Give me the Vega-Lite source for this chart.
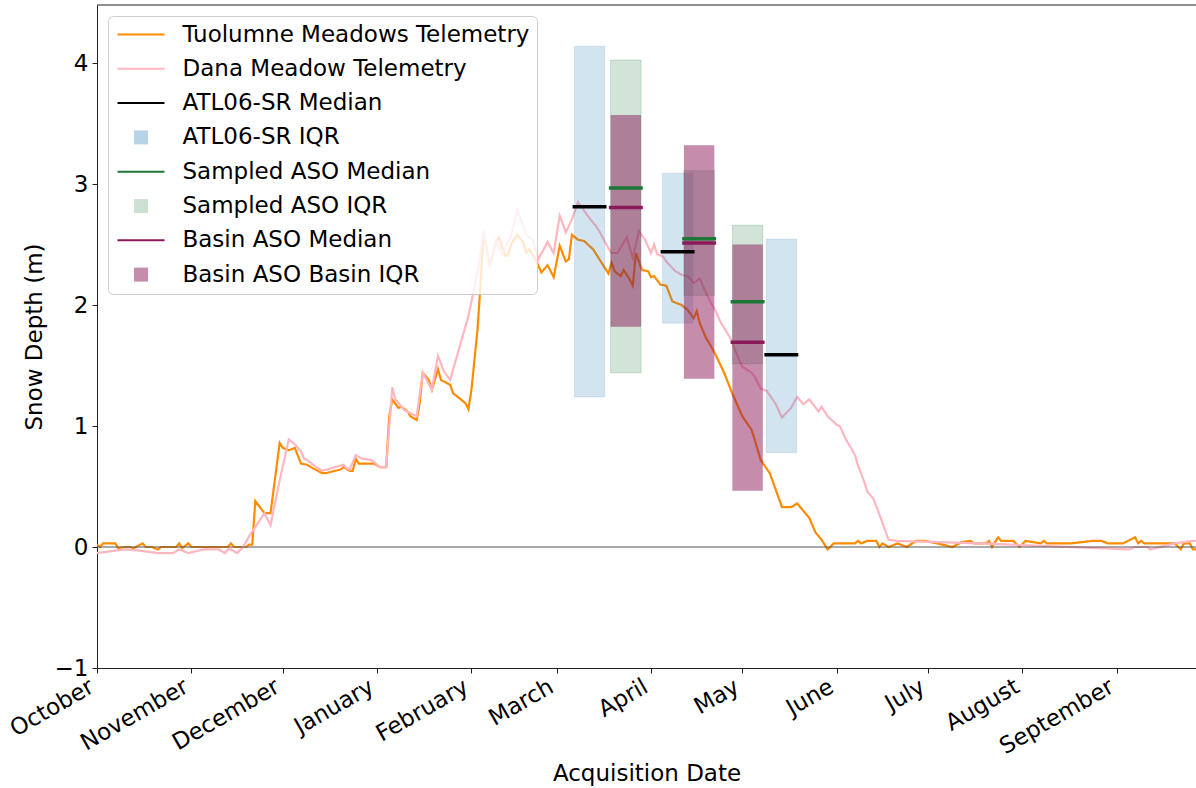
{
  "$schema": "https://vega.github.io/schema/vega-lite/v6.json",
  "width": 1099,
  "height": 663,
  "autosize": {"type": "none"},
  "padding": {"left": 97, "top": 5, "right": 0, "bottom": 120},
  "background": "white",
  "config": {
    "font": "DejaVu Sans",
    "view": {"stroke": null},
    "axis": {"labelFont": "DejaVu Sans", "titleFont": "DejaVu Sans", "labelFontSize": 23, "titleFontSize": 23, "titleFontWeight": "normal", "labelColor": "black", "titleColor": "black", "domainColor": "#222222", "tickColor": "#222222", "tickSize": 5, "grid": false},
    "legend": {"labelFont": "DejaVu Sans", "labelFontSize": 23, "labelColor": "black"}
  },
  "datasets": {
    "tuol": [
      {"date": "2018-10-01", "depth": 0.02}, {"date": "2018-10-02", "depth": 0.0}, {"date": "2018-10-03", "depth": 0.03}, {"date": "2018-10-07", "depth": 0.03}, {"date": "2018-10-08", "depth": -0.01}, {"date": "2018-10-10", "depth": 0.0}, {"date": "2018-10-12", "depth": 0.0}, {"date": "2018-10-13", "depth": -0.01}, {"date": "2018-10-16", "depth": 0.03}, {"date": "2018-10-17", "depth": 0.0}, {"date": "2018-10-19", "depth": 0.0}, {"date": "2018-10-21", "depth": -0.02}, {"date": "2018-10-22", "depth": 0.0}, {"date": "2018-10-27", "depth": 0.0}, {"date": "2018-10-28", "depth": 0.03}, {"date": "2018-10-29", "depth": -0.01}, {"date": "2018-10-31", "depth": 0.03}, {"date": "2018-11-01", "depth": 0.0}, {"date": "2018-11-13", "depth": 0.0}, {"date": "2018-11-14", "depth": 0.03}, {"date": "2018-11-15", "depth": 0.0}, {"date": "2018-11-19", "depth": 0.0}, {"date": "2018-11-20", "depth": 0.02}, {"date": "2018-11-21", "depth": 0.02}, {"date": "2018-11-22", "depth": 0.38}, {"date": "2018-11-25", "depth": 0.28}, {"date": "2018-11-27", "depth": 0.28}, {"date": "2018-11-30", "depth": 0.86}, {"date": "2018-12-01", "depth": 0.82}, {"date": "2018-12-03", "depth": 0.80}, {"date": "2018-12-05", "depth": 0.82}, {"date": "2018-12-07", "depth": 0.69}, {"date": "2018-12-09", "depth": 0.68}, {"date": "2018-12-11", "depth": 0.65}, {"date": "2018-12-14", "depth": 0.61}, {"date": "2018-12-15", "depth": 0.61}, {"date": "2018-12-20", "depth": 0.64}, {"date": "2018-12-21", "depth": 0.66}, {"date": "2018-12-23", "depth": 0.63}, {"date": "2018-12-24", "depth": 0.63}, {"date": "2018-12-25", "depth": 0.73}, {"date": "2018-12-26", "depth": 0.69}, {"date": "2018-12-31", "depth": 0.69}, {"date": "2019-01-02", "depth": 0.66}, {"date": "2019-01-04", "depth": 0.66}, {"date": "2019-01-05", "depth": 1.08}, {"date": "2019-01-06", "depth": 1.22}, {"date": "2019-01-08", "depth": 1.15}, {"date": "2019-01-09", "depth": 1.16}, {"date": "2019-01-11", "depth": 1.12}, {"date": "2019-01-12", "depth": 1.08}, {"date": "2019-01-14", "depth": 1.05}, {"date": "2019-01-15", "depth": 1.19}, {"date": "2019-01-16", "depth": 1.44}, {"date": "2019-01-18", "depth": 1.38}, {"date": "2019-01-19", "depth": 1.30}, {"date": "2019-01-21", "depth": 1.47}, {"date": "2019-01-22", "depth": 1.38}, {"date": "2019-01-25", "depth": 1.34}, {"date": "2019-01-26", "depth": 1.27}, {"date": "2019-01-28", "depth": 1.23}, {"date": "2019-01-30", "depth": 1.19}, {"date": "2019-01-31", "depth": 1.14}, {"date": "2019-02-01", "depth": 1.30}, {"date": "2019-02-03", "depth": 1.80}, {"date": "2019-02-04", "depth": 2.18}, {"date": "2019-02-05", "depth": 2.60}, {"date": "2019-02-07", "depth": 2.32}, {"date": "2019-02-09", "depth": 2.52}, {"date": "2019-02-10", "depth": 2.56}, {"date": "2019-02-12", "depth": 2.41}, {"date": "2019-02-13", "depth": 2.41}, {"date": "2019-02-14", "depth": 2.50}, {"date": "2019-02-16", "depth": 2.58}, {"date": "2019-02-18", "depth": 2.52}, {"date": "2019-02-19", "depth": 2.43}, {"date": "2019-02-20", "depth": 2.46}, {"date": "2019-02-22", "depth": 2.38}, {"date": "2019-02-24", "depth": 2.27}, {"date": "2019-02-26", "depth": 2.33}, {"date": "2019-02-28", "depth": 2.23}, {"date": "2019-03-02", "depth": 2.49}, {"date": "2019-03-04", "depth": 2.36}, {"date": "2019-03-05", "depth": 2.38}, {"date": "2019-03-06", "depth": 2.58}, {"date": "2019-03-08", "depth": 2.54}, {"date": "2019-03-10", "depth": 2.53}, {"date": "2019-03-13", "depth": 2.46}, {"date": "2019-03-15", "depth": 2.38}, {"date": "2019-03-18", "depth": 2.26}, {"date": "2019-03-19", "depth": 2.35}, {"date": "2019-03-20", "depth": 2.28}, {"date": "2019-03-22", "depth": 2.24}, {"date": "2019-03-23", "depth": 2.29}, {"date": "2019-03-25", "depth": 2.21}, {"date": "2019-03-26", "depth": 2.16}, {"date": "2019-03-27", "depth": 2.43}, {"date": "2019-03-29", "depth": 2.29}, {"date": "2019-03-31", "depth": 2.28}, {"date": "2019-04-01", "depth": 2.23}, {"date": "2019-04-02", "depth": 2.24}, {"date": "2019-04-04", "depth": 2.17}, {"date": "2019-04-06", "depth": 2.16}, {"date": "2019-04-08", "depth": 2.03}, {"date": "2019-04-11", "depth": 2.00}, {"date": "2019-04-13", "depth": 1.96}, {"date": "2019-04-15", "depth": 1.89}, {"date": "2019-04-16", "depth": 1.95}, {"date": "2019-04-17", "depth": 1.85}, {"date": "2019-04-19", "depth": 1.73}, {"date": "2019-04-20", "depth": 1.69}, {"date": "2019-04-22", "depth": 1.60}, {"date": "2019-04-25", "depth": 1.44}, {"date": "2019-04-28", "depth": 1.25}, {"date": "2019-05-01", "depth": 1.08}, {"date": "2019-05-04", "depth": 0.97}, {"date": "2019-05-05", "depth": 0.89}, {"date": "2019-05-07", "depth": 0.72}, {"date": "2019-05-10", "depth": 0.61}, {"date": "2019-05-12", "depth": 0.47}, {"date": "2019-05-14", "depth": 0.33}, {"date": "2019-05-17", "depth": 0.33}, {"date": "2019-05-19", "depth": 0.36}, {"date": "2019-05-21", "depth": 0.30}, {"date": "2019-05-23", "depth": 0.24}, {"date": "2019-05-25", "depth": 0.12}, {"date": "2019-05-26", "depth": 0.09}, {"date": "2019-05-27", "depth": 0.06}, {"date": "2019-05-28", "depth": 0.02}, {"date": "2019-05-29", "depth": -0.02}, {"date": "2019-05-31", "depth": 0.03}, {"date": "2019-06-07", "depth": 0.03}, {"date": "2019-06-08", "depth": 0.05}, {"date": "2019-06-09", "depth": 0.03}, {"date": "2019-06-11", "depth": 0.05}, {"date": "2019-06-14", "depth": 0.05}, {"date": "2019-06-15", "depth": 0.0}, {"date": "2019-06-16", "depth": 0.03}, {"date": "2019-06-18", "depth": 0.0}, {"date": "2019-06-21", "depth": 0.03}, {"date": "2019-06-24", "depth": 0.0}, {"date": "2019-06-27", "depth": 0.05}, {"date": "2019-06-30", "depth": 0.05}, {"date": "2019-07-04", "depth": 0.03}, {"date": "2019-07-09", "depth": 0.0}, {"date": "2019-07-12", "depth": 0.04}, {"date": "2019-07-15", "depth": 0.05}, {"date": "2019-07-16", "depth": 0.03}, {"date": "2019-07-20", "depth": 0.03}, {"date": "2019-07-21", "depth": 0.05}, {"date": "2019-07-22", "depth": 0.0}, {"date": "2019-07-24", "depth": 0.08}, {"date": "2019-07-25", "depth": 0.05}, {"date": "2019-07-29", "depth": 0.05}, {"date": "2019-07-31", "depth": 0.0}, {"date": "2019-08-02", "depth": 0.05}, {"date": "2019-08-07", "depth": 0.03}, {"date": "2019-08-08", "depth": 0.05}, {"date": "2019-08-09", "depth": 0.03}, {"date": "2019-08-17", "depth": 0.03}, {"date": "2019-08-24", "depth": 0.05}, {"date": "2019-08-27", "depth": 0.05}, {"date": "2019-08-29", "depth": 0.03}, {"date": "2019-09-03", "depth": 0.03}, {"date": "2019-09-07", "depth": 0.08}, {"date": "2019-09-08", "depth": 0.03}, {"date": "2019-09-09", "depth": 0.05}, {"date": "2019-09-10", "depth": 0.03}, {"date": "2019-09-20", "depth": 0.03}, {"date": "2019-09-22", "depth": -0.02}, {"date": "2019-09-23", "depth": 0.03}, {"date": "2019-09-25", "depth": 0.03}, {"date": "2019-09-26", "depth": -0.02}, {"date": "2019-09-28", "depth": -0.02}
    ],
    "dana": [
      {"date": "2018-10-01", "depth": -0.05}, {"date": "2018-10-10", "depth": -0.02}, {"date": "2018-10-15", "depth": -0.03}, {"date": "2018-10-21", "depth": -0.05}, {"date": "2018-10-26", "depth": -0.05}, {"date": "2018-10-28", "depth": -0.02}, {"date": "2018-10-31", "depth": -0.05}, {"date": "2018-11-05", "depth": -0.02}, {"date": "2018-11-10", "depth": -0.02}, {"date": "2018-11-12", "depth": -0.05}, {"date": "2018-11-13", "depth": -0.02}, {"date": "2018-11-14", "depth": -0.02}, {"date": "2018-11-16", "depth": -0.05}, {"date": "2018-11-18", "depth": 0.0}, {"date": "2018-11-20", "depth": 0.09}, {"date": "2018-11-25", "depth": 0.28}, {"date": "2018-11-27", "depth": 0.18}, {"date": "2018-11-30", "depth": 0.55}, {"date": "2018-12-03", "depth": 0.89}, {"date": "2018-12-05", "depth": 0.85}, {"date": "2018-12-07", "depth": 0.79}, {"date": "2018-12-08", "depth": 0.73}, {"date": "2018-12-09", "depth": 0.72}, {"date": "2018-12-12", "depth": 0.66}, {"date": "2018-12-14", "depth": 0.63}, {"date": "2018-12-21", "depth": 0.68}, {"date": "2018-12-22", "depth": 0.65}, {"date": "2018-12-23", "depth": 0.64}, {"date": "2018-12-25", "depth": 0.76}, {"date": "2018-12-27", "depth": 0.73}, {"date": "2018-12-30", "depth": 0.72}, {"date": "2019-01-02", "depth": 0.66}, {"date": "2019-01-04", "depth": 0.66}, {"date": "2019-01-06", "depth": 1.32}, {"date": "2019-01-07", "depth": 1.22}, {"date": "2019-01-10", "depth": 1.13}, {"date": "2019-01-14", "depth": 1.08}, {"date": "2019-01-16", "depth": 1.44}, {"date": "2019-01-19", "depth": 1.30}, {"date": "2019-01-21", "depth": 1.58}, {"date": "2019-01-23", "depth": 1.45}, {"date": "2019-01-25", "depth": 1.38}, {"date": "2019-01-31", "depth": 1.91}, {"date": "2019-02-03", "depth": 2.27}, {"date": "2019-02-05", "depth": 2.61}, {"date": "2019-02-07", "depth": 2.31}, {"date": "2019-02-09", "depth": 2.53}, {"date": "2019-02-11", "depth": 2.42}, {"date": "2019-02-14", "depth": 2.57}, {"date": "2019-02-16", "depth": 2.79}, {"date": "2019-02-19", "depth": 2.58}, {"date": "2019-02-21", "depth": 2.54}, {"date": "2019-02-23", "depth": 2.38}, {"date": "2019-02-26", "depth": 2.52}, {"date": "2019-02-28", "depth": 2.43}, {"date": "2019-03-02", "depth": 2.74}, {"date": "2019-03-04", "depth": 2.60}, {"date": "2019-03-06", "depth": 2.71}, {"date": "2019-03-08", "depth": 2.85}, {"date": "2019-03-12", "depth": 2.71}, {"date": "2019-03-14", "depth": 2.65}, {"date": "2019-03-15", "depth": 2.61}, {"date": "2019-03-18", "depth": 2.47}, {"date": "2019-03-19", "depth": 2.43}, {"date": "2019-03-21", "depth": 2.43}, {"date": "2019-03-24", "depth": 2.56}, {"date": "2019-03-26", "depth": 2.39}, {"date": "2019-03-28", "depth": 2.61}, {"date": "2019-03-30", "depth": 2.54}, {"date": "2019-04-01", "depth": 2.43}, {"date": "2019-04-02", "depth": 2.50}, {"date": "2019-04-03", "depth": 2.42}, {"date": "2019-04-05", "depth": 2.40}, {"date": "2019-04-06", "depth": 2.36}, {"date": "2019-04-09", "depth": 2.28}, {"date": "2019-04-11", "depth": 2.25}, {"date": "2019-04-13", "depth": 2.24}, {"date": "2019-04-15", "depth": 2.18}, {"date": "2019-04-17", "depth": 2.22}, {"date": "2019-04-18", "depth": 2.16}, {"date": "2019-04-20", "depth": 2.05}, {"date": "2019-04-22", "depth": 1.96}, {"date": "2019-04-24", "depth": 1.85}, {"date": "2019-04-27", "depth": 1.73}, {"date": "2019-04-29", "depth": 1.60}, {"date": "2019-05-01", "depth": 1.49}, {"date": "2019-05-04", "depth": 1.44}, {"date": "2019-05-05", "depth": 1.41}, {"date": "2019-05-07", "depth": 1.31}, {"date": "2019-05-09", "depth": 1.29}, {"date": "2019-05-12", "depth": 1.18}, {"date": "2019-05-14", "depth": 1.07}, {"date": "2019-05-17", "depth": 1.15}, {"date": "2019-05-19", "depth": 1.24}, {"date": "2019-05-21", "depth": 1.18}, {"date": "2019-05-23", "depth": 1.22}, {"date": "2019-05-26", "depth": 1.12}, {"date": "2019-05-27", "depth": 1.16}, {"date": "2019-05-29", "depth": 1.08}, {"date": "2019-06-01", "depth": 1.01}, {"date": "2019-06-02", "depth": 1.00}, {"date": "2019-06-04", "depth": 0.89}, {"date": "2019-06-07", "depth": 0.76}, {"date": "2019-06-08", "depth": 0.67}, {"date": "2019-06-10", "depth": 0.54}, {"date": "2019-06-11", "depth": 0.46}, {"date": "2019-06-13", "depth": 0.40}, {"date": "2019-06-15", "depth": 0.27}, {"date": "2019-06-18", "depth": 0.06}, {"date": "2019-06-21", "depth": 0.05}, {"date": "2019-07-18", "depth": 0.03}, {"date": "2019-09-05", "depth": -0.02}, {"date": "2019-09-07", "depth": 0.0}, {"date": "2019-09-11", "depth": 0.0}, {"date": "2019-09-12", "depth": -0.02}, {"date": "2019-09-20", "depth": 0.03}, {"date": "2019-09-26", "depth": 0.05}, {"date": "2019-09-28", "depth": 0.05}
    ],
    "iqr": [
      {"series": "ATL06-SR IQR", "start": "2019-03-06T19:00:00Z", "end": "2019-03-16T19:00:00Z", "q1": 1.24, "q3": 4.14},
      {"series": "ATL06-SR IQR", "start": "2019-04-04T17:00:00Z", "end": "2019-04-14T17:00:00Z", "q1": 1.85, "q3": 3.09},
      {"series": "ATL06-SR IQR", "start": "2019-05-08T19:00:00Z", "end": "2019-05-18T19:00:00Z", "q1": 0.78, "q3": 2.545},
      {"series": "Sampled ASO IQR", "start": "2019-03-18T17:00:00Z", "end": "2019-03-28T17:00:00Z", "q1": 1.44, "q3": 4.025},
      {"series": "Sampled ASO IQR", "start": "2019-04-11T19:00:00Z", "end": "2019-04-21T19:00:00Z", "q1": 2.08, "q3": 3.11},
      {"series": "Sampled ASO IQR", "start": "2019-04-27T17:00:00Z", "end": "2019-05-07T17:00:00Z", "q1": 1.515, "q3": 2.66},
      {"series": "Basin ASO Basin IQR", "start": "2019-03-18T17:00:00Z", "end": "2019-03-28T17:00:00Z", "q1": 1.82, "q3": 3.57},
      {"series": "Basin ASO Basin IQR", "start": "2019-04-11T19:00:00Z", "end": "2019-04-21T19:00:00Z", "q1": 1.39, "q3": 3.32},
      {"series": "Basin ASO Basin IQR", "start": "2019-04-27T17:00:00Z", "end": "2019-05-07T17:00:00Z", "q1": 0.465, "q3": 2.50}
    ],
    "med": [
      {"series": "ATL06-SR Median", "start": "2019-03-06T19:00:00Z", "end": "2019-03-16T19:00:00Z", "median": 2.812},
      {"series": "ATL06-SR Median", "start": "2019-04-04T17:00:00Z", "end": "2019-04-14T17:00:00Z", "median": 2.44},
      {"series": "ATL06-SR Median", "start": "2019-05-08T19:00:00Z", "end": "2019-05-18T19:00:00Z", "median": 1.589},
      {"series": "Sampled ASO Median", "start": "2019-03-18T17:00:00Z", "end": "2019-03-28T17:00:00Z", "median": 2.967},
      {"series": "Sampled ASO Median", "start": "2019-04-11T19:00:00Z", "end": "2019-04-21T19:00:00Z", "median": 2.548},
      {"series": "Sampled ASO Median", "start": "2019-04-27T17:00:00Z", "end": "2019-05-07T17:00:00Z", "median": 2.027},
      {"series": "Basin ASO Median", "start": "2019-03-18T17:00:00Z", "end": "2019-03-28T17:00:00Z", "median": 2.807},
      {"series": "Basin ASO Median", "start": "2019-04-11T19:00:00Z", "end": "2019-04-21T19:00:00Z", "median": 2.512},
      {"series": "Basin ASO Median", "start": "2019-04-27T17:00:00Z", "end": "2019-05-07T17:00:00Z", "median": 1.692}
    ]
  },
  "layer": [
    {
      "data": {"name": "tuol"},
      "transform": [{"calculate": "'Tuolumne Meadows Telemetry'", "as": "series"}],
      "mark": {"type": "line", "strokeWidth": 2.2, "clip": true},
      "encoding": {
        "x": {"field": "date", "type": "temporal", "title": "Acquisition Date",
              "scale": {"type": "utc", "domain": [{"year": 2018, "month": 10, "date": 1, "utc": true}, {"year": 2019, "month": 9, "date": 27, "utc": true}]},
              "axis": {"values": [
                {"year": 2018, "month": 10, "date": 1, "utc": true}, {"year": 2018, "month": 11, "date": 1, "utc": true}, {"year": 2018, "month": 12, "date": 1, "utc": true},
                {"year": 2019, "month": 1, "date": 1, "utc": true}, {"year": 2019, "month": 2, "date": 1, "utc": true}, {"year": 2019, "month": 3, "date": 1, "utc": true},
                {"year": 2019, "month": 4, "date": 1, "utc": true}, {"year": 2019, "month": 5, "date": 1, "utc": true}, {"year": 2019, "month": 6, "date": 1, "utc": true},
                {"year": 2019, "month": 7, "date": 1, "utc": true}, {"year": 2019, "month": 8, "date": 1, "utc": true}, {"year": 2019, "month": 9, "date": 1, "utc": true}],
                "labelExpr": "utcFormat(datum.value, '%B')", "labelAngle": -30, "labelAlign": "right", "labelBaseline": "top",
                "labelPadding": 2, "labelOffset": -11, "titlePadding": 4, "labelOverlap": false, "labelFlush": false, "labelBound": false}},
        "y": {"field": "depth", "type": "quantitative", "title": "Snow Depth (m)",
              "scale": {"domain": [-1, 4.48], "nice": false, "zero": false},
              "axis": {"values": [-1, 0, 1, 2, 3, 4], "format": "d", "labelPadding": 4, "titlePadding": 8, "labelExpr": "replace(datum.label, '-', '\u2212')"}},
        "color": {"field": "series", "type": "nominal",
          "scale": {"domain": ["Tuolumne Meadows Telemetry", "Dana Meadow Telemetry", "ATL06-SR Median", "ATL06-SR IQR", "Sampled ASO Median", "Sampled ASO IQR", "Basin ASO Median", "Basin ASO Basin IQR"],
                    "range": ["#ff8c00", "#ffb6c1", "#000000", "#1f77b4", "#1b7837", "#1b7837", "#8b1a5a", "#8b1a5a"]},
          "legend": {
            "title": null, "orient": "top-left", "offset": 11, "padding": 7, "rowPadding": 10.3, "labelOffset": 30, "symbolOffset": 14.5, "labelLimit": 600,
            "symbolType": "stroke", "symbolSize": 576, "symbolStrokeWidth": 2,
            "strokeColor": "#cccccc", "fillColor": "rgba(255,255,255,0.8)", "cornerRadius": 5,
            "encode": {"symbols": {"update": {
              "shape": {"signal": "indexof(['ATL06-SR IQR','Sampled ASO IQR','Basin ASO Basin IQR'], datum.value) >= 0 ? 'square' : 'stroke'"},
              "size": {"signal": "indexof(['ATL06-SR IQR','Sampled ASO IQR','Basin ASO Basin IQR'], datum.value) >= 0 ? 196 : 2209"},
              "fill": {"signal": "datum.value === 'ATL06-SR IQR' ? '#1f77b4' : datum.value === 'Sampled ASO IQR' ? '#1b7837' : datum.value === 'Basin ASO Basin IQR' ? '#8b1a5a' : 'transparent'"},
              "stroke": {"signal": "datum.value === 'Tuolumne Meadows Telemetry' ? '#ff8c00' : datum.value === 'Dana Meadow Telemetry' ? '#ffb6c1' : datum.value === 'ATL06-SR Median' ? '#000000' : datum.value === 'Sampled ASO Median' ? '#1b7837' : datum.value === 'Basin ASO Median' ? '#8b1a5a' : 'transparent'"},
              "fillOpacity": {"signal": "datum.value === 'ATL06-SR IQR' ? 0.32 : datum.value === 'Sampled ASO IQR' ? 0.22 : 0.5"},
              "strokeWidth": {"signal": "indexof(['ATL06-SR IQR','Sampled ASO IQR','Basin ASO Basin IQR'], datum.value) >= 0 ? 0 : 2"},
              "opacity": {"value": 1}
            }}}
          }}
      }
    },
    {
      "data": {"name": "dana"},
      "transform": [{"calculate": "'Dana Meadow Telemetry'", "as": "series"}],
      "mark": {"type": "line", "strokeWidth": 2.2, "clip": true},
      "encoding": {
        "x": {"field": "date", "type": "temporal", "title": "Acquisition Date"},
        "y": {"field": "depth", "type": "quantitative", "title": "Snow Depth (m)"},
        "color": {"field": "series", "type": "nominal"}
      }
    },
    {
      "data": {"values": [{}]},
      "mark": {"type": "rule", "color": "#555555", "strokeWidth": 1},
      "encoding": {"y": {"datum": 0, "type": "quantitative", "title": "Snow Depth (m)"}}
    },
    {
      "data": {"values": [{}]},
      "mark": {"type": "rule", "color": "#222222", "strokeWidth": 1},
      "encoding": {"y": {"datum": 4.48, "type": "quantitative", "title": "Snow Depth (m)"}}
    },
    {
      "data": {"name": "iqr"},
      "transform": [{"filter": "datum.series === 'ATL06-SR IQR'"}],
      "mark": {"type": "rect", "fillOpacity": 0.2, "stroke": "#1f77b4", "strokeOpacity": 0.12, "strokeWidth": 1},
      "encoding": {
        "x": {"field": "start", "type": "temporal", "title": "Acquisition Date"}, "x2": {"field": "end"},
        "y": {"field": "q1", "type": "quantitative", "title": "Snow Depth (m)"}, "y2": {"field": "q3"},
        "color": {"field": "series", "type": "nominal"}
      }
    },
    {
      "data": {"name": "iqr"},
      "transform": [{"filter": "datum.series === 'Sampled ASO IQR'"}],
      "mark": {"type": "rect", "fillOpacity": 0.2, "stroke": "#1b7837", "strokeOpacity": 0.2, "strokeWidth": 1},
      "encoding": {
        "x": {"field": "start", "type": "temporal", "title": "Acquisition Date"}, "x2": {"field": "end"},
        "y": {"field": "q1", "type": "quantitative", "title": "Snow Depth (m)"}, "y2": {"field": "q3"},
        "color": {"field": "series", "type": "nominal"}
      }
    },
    {
      "data": {"name": "iqr"},
      "transform": [{"filter": "datum.series === 'Basin ASO Basin IQR'"}],
      "mark": {"type": "rect", "fillOpacity": 0.5, "strokeWidth": 0},
      "encoding": {
        "x": {"field": "start", "type": "temporal", "title": "Acquisition Date"}, "x2": {"field": "end"},
        "y": {"field": "q1", "type": "quantitative", "title": "Snow Depth (m)"}, "y2": {"field": "q3"},
        "color": {"field": "series", "type": "nominal"}
      }
    },
    {
      "data": {"name": "med"},
      "mark": {"type": "rule", "strokeWidth": 3.5, "strokeCap": "square"},
      "encoding": {
        "x": {"field": "start", "type": "temporal", "title": "Acquisition Date"}, "x2": {"field": "end"},
        "y": {"field": "median", "type": "quantitative", "title": "Snow Depth (m)"},
        "color": {"field": "series", "type": "nominal"}
      }
    }
  ]
}
